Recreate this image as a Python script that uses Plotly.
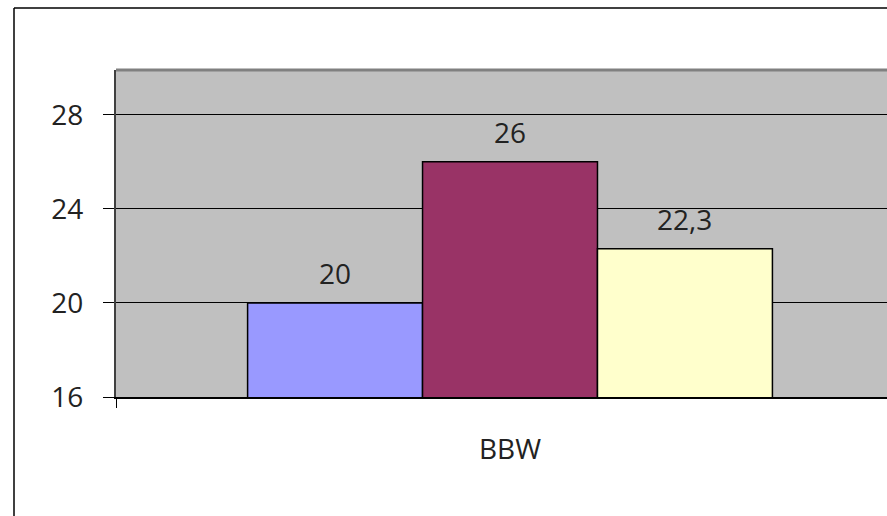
import plotly.graph_objects as go

# Data
categories = ["BBW"]
series_names = ["Serie 1", "Serie 2", "Serie 3"]
series_values = [20, 26, 22.3]
series_colors = ["#9999FF", "#993366", "#FFFFCC"]
y_ticks = [16, 20, 24, 28]

FONT = "Open Sans, Noto Sans, sans-serif"
FONT_SIZE = 28
BARGAP = 0.334

fig = go.Figure()
for name, val, col in zip(series_names, series_values, series_colors):
    fig.add_trace(go.Bar(
        x=categories, y=[val], name=name,
        marker=dict(color=col, line=dict(color="black", width=1.5)),
        base=0,
    ))

# Value labels above each bar (comma decimal separator)
n = len(series_values)
plot_w = 887 - 116
x_range = [-0.5, 0.4784]
px_per_unit = plot_w / (x_range[1] - x_range[0])
bar_px = (1 - BARGAP) * px_per_unit / n
annotations = []
for i, val in enumerate(series_values):
    annotations.append(dict(
        x=categories[0], y=val, xref="x", yref="y",
        text=f"{val:g}".replace(".", ","),
        showarrow=False, yanchor="bottom",
        xshift=(i - (n - 1) / 2) * bar_px, yshift=9,
        font=dict(family=FONT, size=FONT_SIZE, color="#222222"),
    ))

# Outer chart frame (left and top edges) and the plot area's top border
left_paper = (14 - 116) / plot_w
top_paper = 1 + (70 - 8) / 327
shapes = [
    dict(type="line", xref="paper", yref="paper", x0=left_paper, x1=left_paper,
         y0=-1, y1=top_paper, line=dict(color="black", width=1.5)),
    dict(type="line", xref="paper", yref="paper", x0=left_paper, x1=1.2,
         y0=top_paper, y1=top_paper, line=dict(color="black", width=1.5)),
    dict(type="line", xref="paper", yref="paper", x0=0, x1=1.1,
         y0=1, y1=1, line=dict(color="#808080", width=3)),
]

fig.update_layout(
    width=887, height=516,
    margin=dict(l=116, r=0, t=70, b=119),
    paper_bgcolor="white", plot_bgcolor="#C0C0C0",
    barmode="group", bargap=BARGAP, bargroupgap=0,
    showlegend=False,
    font=dict(family=FONT, size=FONT_SIZE, color="#222222"),
    annotations=annotations, shapes=shapes,
    xaxis=dict(
        type="category", range=x_range, showgrid=False,
        showline=True, linecolor="black", linewidth=1.5,
        ticks="outside", tickson="boundaries", ticklen=9, tickcolor="black",
        ticklabelstandoff=27,
    ),
    yaxis=dict(
        range=[16, 29.9], tickvals=y_ticks,
        showgrid=True, gridcolor="black", gridwidth=1,
        showline=True, linecolor="#404040", linewidth=2,
        ticks="outside", ticklen=11, tickcolor="black",
        ticklabelstandoff=14, zeroline=False,
    ),
)

fig.write_html("out.html")
